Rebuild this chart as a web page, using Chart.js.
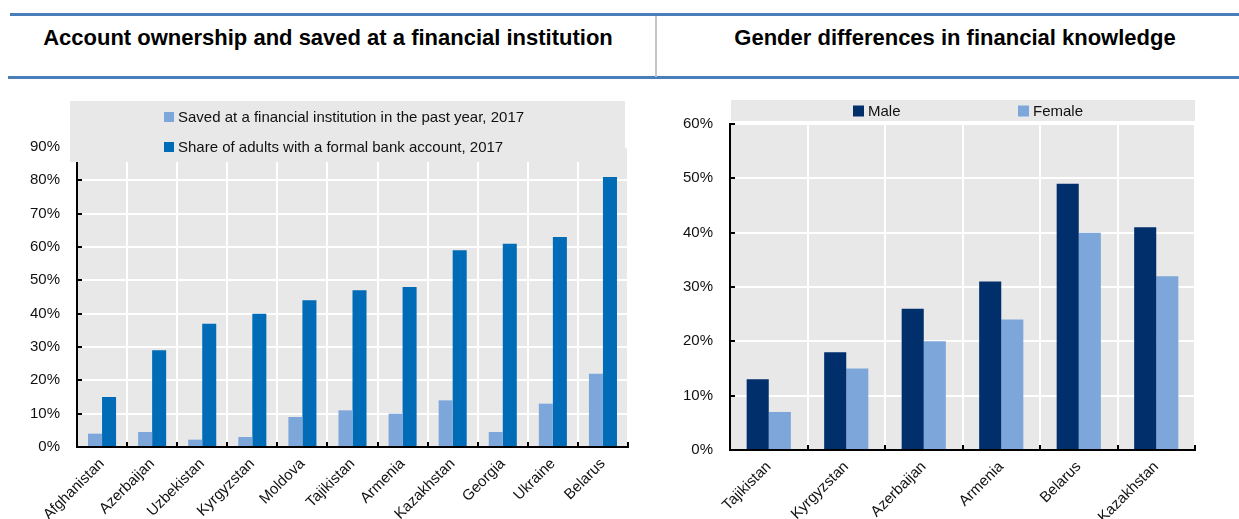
<!DOCTYPE html>
<html>
<head>
<meta charset="utf-8">
<script src="https://cdn.jsdelivr.net/npm/chart.js@4.4.1/dist/chart.umd.min.js"></script>
<style>
  body { margin: 0; background: #fff; font-family: "Liberation Sans", Arial, sans-serif; }
  #wrap { position: relative; width: 1239px; height: 519px; overflow: hidden; }
  .rule { position: absolute; background: #4a7ebb; height: 3px; }
  .divider { position: absolute; left: 655px; top: 16px; width: 2px; height: 61px; background: #c4c4c4; }
  .title { position: absolute; top: 25px; font-weight: bold; font-size: 22px; line-height: 26px; color: #000; text-align: center; white-space: nowrap; }
  .box { position: absolute; top: 85px; height: 434px; }
</style>
</head>
<body>
<div id="wrap">
  <div class="rule" style="left:10px; top:13px; width:1229px;"></div>
  <div class="rule" style="left:8px; top:76px; width:1231px;"></div>
  <div class="divider"></div>
  <div class="title" style="left:5px; width:646px;">Account ownership and saved at a financial institution</div>
  <div class="title" style="left:657px; width:596px;">Gender differences in financial knowledge</div>
  <div class="box" style="left:0px; width:650px;"><canvas id="chart1"></canvas></div>
  <div class="box" style="left:665px; width:574px;"><canvas id="chart2"></canvas></div>
</div>

<script>
// account ownership panel
const accountCountries = ['Afghanistan', 'Azerbaijan', 'Uzbekistan', 'Kyrgyzstan', 'Moldova', 'Tajikistan', 'Armenia', 'Kazakhstan', 'Georgia', 'Ukraine', 'Belarus'];
const savedValues = [4, 4.5, 2.2, 3, 9, 11, 10, 14, 4.5, 13, 22];
const accountValues = [15, 29, 37, 40, 44, 47, 48, 59, 61, 63, 81];
const accountSeries = ['Saved at a financial institution in the past year, 2017', 'Share of adults with a formal bank account, 2017'];
const accountMax = 90;

// financial knowledge panel
const knowledgeCountries = ['Tajikistan', 'Kyrgyzstan', 'Azerbaijan', 'Armenia', 'Belarus', 'Kazakhstan'];
const maleValues = [13, 18, 26, 31, 49, 41];
const femaleValues = [7, 15, 20, 24, 40, 32];
const knowledgeSeries = ['Male', 'Female'];
const knowledgeMax = 60;

const tickStep = 10;
const FONT = '"Liberation Sans", Arial, sans-serif';
const plotBg = '#e8e8e8';

// grey plot background + inward tick marks on both axes
const panelPlugin = {
  id: 'panel',
  beforeDraw(chart) {
    const a = chart.chartArea;
    const ctx = chart.ctx;
    ctx.save();
    ctx.fillStyle = plotBg;
    ctx.fillRect(a.left, a.top, a.right - a.left, a.bottom - a.top);
    ctx.restore();
  },
  afterDatasetsDraw(chart) {
    const ctx = chart.ctx;
    const x = chart.scales.x, y = chart.scales.y;
    const a = chart.chartArea;
    ctx.save();
    ctx.strokeStyle = '#000';
    ctx.lineWidth = 2;
    ctx.beginPath();
    y.ticks.forEach(function (t) {
      let py = Math.round(y.getPixelForValue(t.value));
      ctx.moveTo(a.left, py);
      ctx.lineTo(a.left + 5, py);
    });
    for (let i = 0; i <= x.ticks.length; i++) {
      let px = Math.round(x.left + (x.right - x.left) * i / x.ticks.length);
      ctx.moveTo(px, a.bottom);
      ctx.lineTo(px, a.bottom - 5);
    }
    ctx.stroke();
    ctx.restore();
  }
};

// legend drawn in a grey box over the top of the plot
const boxLegendPlugin = {
  id: 'boxLegend',
  afterDraw(chart, args, opts) {
    const ctx = chart.ctx;
    ctx.save();
    ctx.fillStyle = plotBg;
    ctx.fillRect(opts.box[0], opts.box[1], opts.box[2], opts.box[3]);
    ctx.font = opts.fontSize + 'px ' + FONT;
    ctx.textBaseline = 'middle';
    chart.data.datasets.forEach(function (ds, i) {
      let p = opts.items[i];
      ctx.fillStyle = ds.backgroundColor;
      ctx.fillRect(p[0], p[1] - opts.marker / 2, opts.marker, opts.marker);
      ctx.fillStyle = '#111';
      ctx.fillText(ds.label, p[0] + opts.marker + 4, p[1] + 1);
    });
    ctx.restore();
  }
};

function makeScales(maxValue, yWidth, xHeight) {
  return {
    x: {
      grid: { color: '#fff', lineWidth: 2, drawTicks: false, offset: true },
      border: { display: true, color: '#000', width: 2 },
      ticks: {
        color: '#111', font: { family: FONT, size: 15 },
        minRotation: 45, maxRotation: 45, padding: 8, autoSkip: false
      },
      afterFit: function (scale) { scale.height = xHeight; }
    },
    y: {
      min: 0, max: maxValue,
      grid: { color: '#fff', lineWidth: 2, drawTicks: false },
      border: { display: true, color: '#000', width: 2 },
      ticks: {
        stepSize: tickStep, color: '#111', font: { family: FONT, size: 15 }, padding: 17,
        callback: function (v) { return v + '%'; }
      },
      afterFit: function (scale) { scale.width = yWidth; }
    }
  };
}

function drawChart1(chartId) {
  var ctx = document.getElementById(chartId);
  new Chart(ctx, {
    type: 'bar',
    data: {
      labels: accountCountries,
      datasets: [
        { label: accountSeries[0], data: savedValues, backgroundColor: '#7da7da' },
        { label: accountSeries[1], data: accountValues, backgroundColor: '#006bb6' }
      ]
    },
    options: {
      responsive: false, animation: false,
      categoryPercentage: 0.56, barPercentage: 1,
      layout: { padding: { left: 0, right: 22, top: 62, bottom: 0 } },
      scales: makeScales(accountMax, 77, 72),
      plugins: {
        legend: { display: false },
        tooltip: { enabled: false },
        boxLegend: { box: [70, 16, 555, 61], marker: 10, fontSize: 15, items: [[164, 32], [164, 62]] }
      }
    },
    plugins: [panelPlugin, boxLegendPlugin]
  });
}

function drawChart2(chartId) {
  var ctx = document.getElementById(chartId);
  new Chart(ctx, {
    type: 'bar',
    data: {
      labels: knowledgeCountries,
      datasets: [
        { label: knowledgeSeries[0], data: maleValues, backgroundColor: '#002f6c' },
        { label: knowledgeSeries[1], data: femaleValues, backgroundColor: '#7da7da' }
      ]
    },
    options: {
      responsive: false, animation: false,
      categoryPercentage: 0.57, barPercentage: 1,
      layout: { padding: { left: 0, right: 44, top: 39, bottom: 0 } },
      scales: makeScales(knowledgeMax, 65, 69),
      plugins: {
        legend: { display: false },
        tooltip: { enabled: false },
        boxLegend: { box: [66, 15, 464, 21], marker: 11, fontSize: 15, items: [[188, 26], [353, 26]] }
      }
    },
    plugins: [panelPlugin, boxLegendPlugin]
  });
}

document.getElementById('chart1').width = 650;
document.getElementById('chart1').height = 434;
document.getElementById('chart2').width = 574;
document.getElementById('chart2').height = 434;
drawChart1('chart1');
drawChart2('chart2');
</script>
</body>
</html>
